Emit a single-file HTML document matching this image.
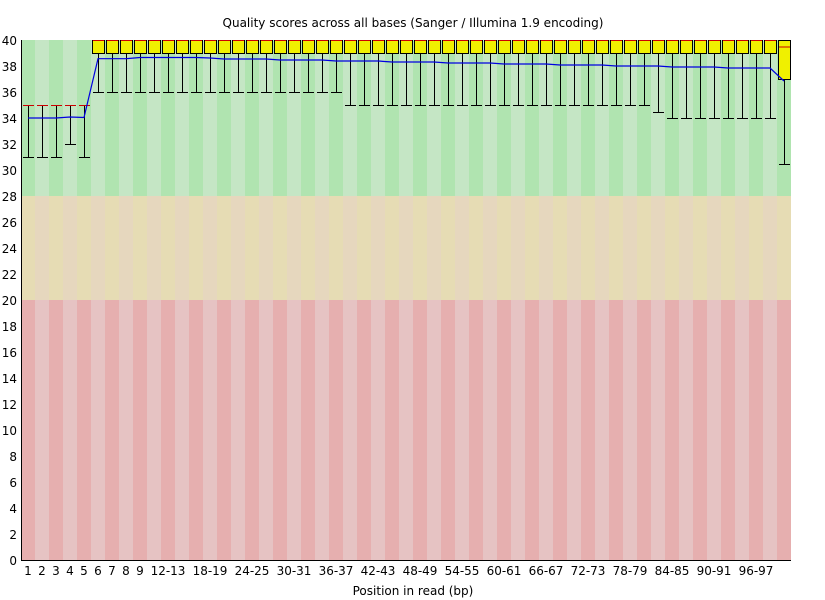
<!DOCTYPE html>
<html><head><meta charset="utf-8"><style>
body{margin:0;background:#fff}
svg{display:block}
text{font-family:"DejaVu Sans","Liberation Sans",sans-serif;font-size:12px;fill:#000}
</style></head><body>
<svg id="s" width="825" height="600" xmlns="http://www.w3.org/2000/svg">
<g id="bg"></g>
<g id="fg"></g>
<text x="413" y="27" text-anchor="middle">Quality scores across all bases (Sanger / Illumina 1.9 encoding)</text>
<g text-anchor="end">
<text x="17" y="45">40</text><text x="17" y="71">38</text><text x="17" y="97">36</text><text x="17" y="123">34</text>
<text x="17" y="149">32</text><text x="17" y="175">30</text><text x="17" y="201">28</text><text x="17" y="227">26</text>
<text x="17" y="253">24</text><text x="17" y="279">22</text><text x="17" y="305">20</text><text x="17" y="331">18</text>
<text x="17" y="357">16</text><text x="17" y="383">14</text><text x="17" y="409">12</text><text x="17" y="435">10</text>
<text x="17" y="461">8</text><text x="17" y="487">6</text><text x="17" y="513">4</text><text x="17" y="539">2</text>
<text x="17" y="565">0</text>
</g>
<g text-anchor="middle">
<text x="28" y="575">1</text><text x="42" y="575">2</text><text x="56" y="575">3</text><text x="70" y="575">4</text>
<text x="84" y="575">5</text><text x="98" y="575">6</text><text x="112" y="575">7</text><text x="126" y="575">8</text>
<text x="140" y="575">9</text><text x="168" y="575">12-13</text><text x="210" y="575">18-19</text><text x="252" y="575">24-25</text>
<text x="294" y="575">30-31</text><text x="336" y="575">36-37</text><text x="378" y="575">42-43</text><text x="420" y="575">48-49</text>
<text x="462" y="575">54-55</text><text x="504" y="575">60-61</text><text x="546" y="575">66-67</text><text x="588" y="575">72-73</text>
<text x="630" y="575">78-79</text><text x="672" y="575">84-85</text><text x="714" y="575">90-91</text><text x="756" y="575">96-97</text>
<text x="413" y="595">Position in read (bp)</text>
</g>
</svg>
<script>
var bg=document.getElementById('bg'),fg=document.getElementById('fg'),h='',f='';
for(var i=0;i<55;i++){var x=21+14*i,d=i%2==0;
h+='<rect x="'+x+'" y="40" width="14" height="156" fill="'+(d?'#b0e4b0':'#c5e6c5')+'"/>';
h+='<rect x="'+x+'" y="196" width="14" height="104" fill="'+(d?'#e6dcb4':'#e6d7be')+'"/>';
h+='<rect x="'+x+'" y="300" width="14" height="260" fill="'+(d?'#e6afaf':'#e6c3c3')+'"/>';}
h+='<line x1="21.5" y1="40" x2="21.5" y2="560.5" stroke="#000"/><line x1="21" y1="560.5" x2="791" y2="560.5" stroke="#000"/>';
bg.innerHTML=h;
var pts=[];
for(var i=0;i<55;i++){var cx=28+14*i,lo,hi,bt,bb,med,m;
if(i<5){hi=105;lo=(i==3)?144:157;bt=105;bb=105;med=105;m=[118,118,118,117,117.5][i];}
else if(i<54){bt=40;bb=53;med=40;hi=53;lo=i<=22?92:(i<=44?105:(i==45?112:118));
m=i<8?58.7:(i<13?57.5:Math.round(58.3+(i-13)*(10/40)));}
else{bt=40;bb=79;med=46.5;hi=79;lo=164;m=81;}
f+='<line x1="'+(cx+.5)+'" y1="'+hi+'" x2="'+(cx+.5)+'" y2="'+lo+'" stroke="#000"/>';
f+='<line x1="'+(cx-5)+'" y1="'+(lo+.5)+'" x2="'+(cx+6)+'" y2="'+(lo+.5)+'" stroke="#000"/>';
if(i>=5){f+='<rect x="'+(cx-5.5)+'" y="'+(bt+.5)+'" width="12" height="'+(bb-bt)+'" fill="#f0f000" stroke="#000"/>';}
f+='<line x1="'+(cx-5)+'" y1="'+(med+.5)+'" x2="'+(cx+6)+'" y2="'+(med+.5)+'" stroke="#c00"/>';
pts.push(cx+','+m);}
f+='<polyline points="'+pts.join(' ')+'" fill="none" stroke="#0000e0" stroke-width="1.2"/>';
fg.innerHTML=f;
</script>
</body></html>
